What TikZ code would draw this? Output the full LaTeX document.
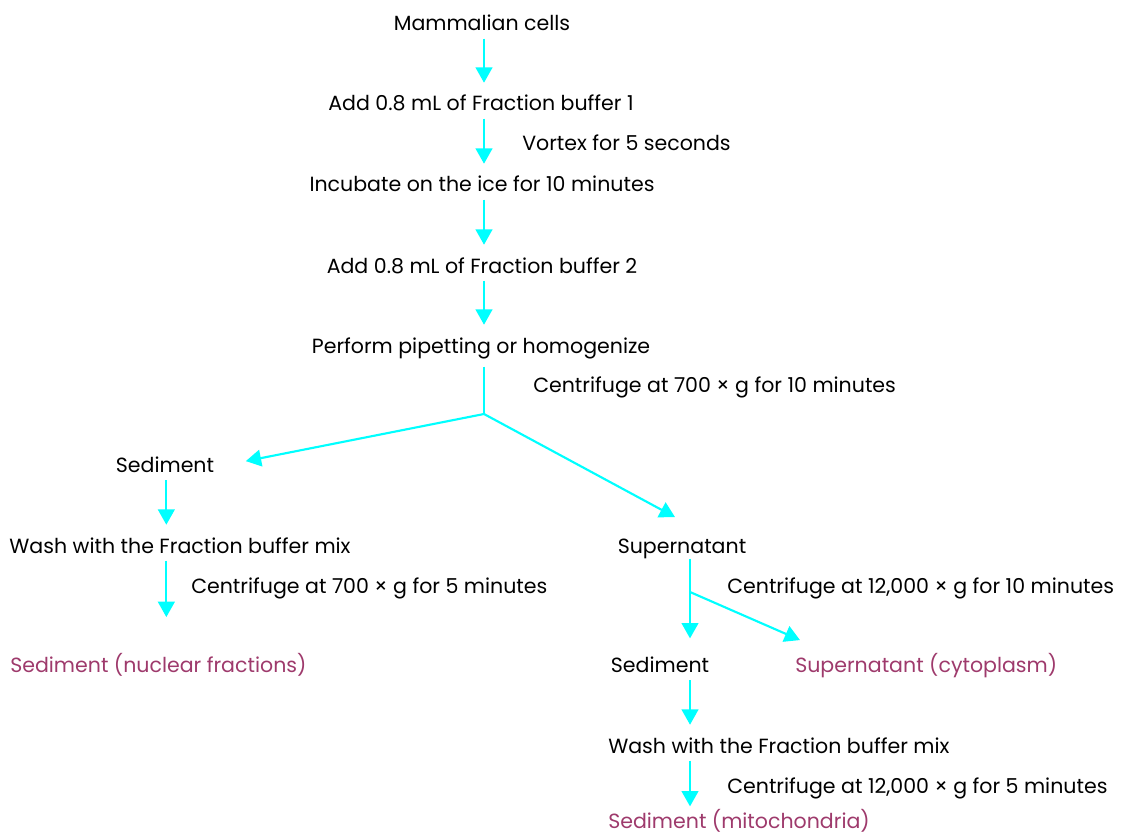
\documentclass[tikz,border=0pt]{standalone}
\usepackage{fontspec}
\setmainfont{Poppins}
\usepackage{tikz}
\usetikzlibrary{arrows.meta,calc}
\definecolor{flowcyan}{RGB}{0,255,255}
\definecolor{fracpurple}{RGB}{158,58,108}
\tikzset{txt/.style={inner sep=0pt, anchor=base, text height=11pt, text depth=4pt, font=\fontsize{15.4}{17}\selectfont}, note/.style={txt, anchor=base west}, result/.style={txt, anchor=base west, text=fracpurple}, flow/.style={draw=flowcyan, line width=1.6pt, -{Triangle[length=11.5pt,width=12.5pt]}}, split/.style={draw=flowcyan, line width=1.6pt}}

\begin{document}
\begin{tikzpicture}[x=0.75pt,y=-0.75pt]
\useasboundingbox (0,0) rectangle (1123,834);
% main column
\node[txt] (cells) at (482,31) {Mammalian cells};
\node[txt] (buffer1) at (481,111) {Add 0.8 mL of Fraction buffer 1};
\node[note] (vortex) at (522,151) {Vortex for 5 seconds};
\node[txt] (incubate) at (482,192) {Incubate on the ice for 10 minutes};
\node[txt] (buffer2) at (482,273) {Add 0.8 mL of Fraction buffer 2};
\node[txt] (pipette) at (481,353) {Perform pipetting or homogenize};
\node[note] (spin1) at (533,392) {Centrifuge at 700 × g for 10 minutes};
\coordinate (fork1) at (484,414);
% nuclear branch
\node[txt] (sed1) at (165,472) {Sediment};
\node[txt] (wash1) at (180,553) {Wash with the Fraction buffer mix};
\node[note] (spin2) at (191,593) {Centrifuge at 700 × g for 5 minutes};
\node[result] (nuclear) at (10,672) {Sediment (nuclear fractions)};
% cytoplasm and mitochondria branch
\node[txt] (super1) at (682,553) {Supernatant};
\node[note] (spin3) at (727,593) {Centrifuge at 12,000 × g for 10 minutes};
\coordinate (fork2) at (690,592);
\node[txt] (sed2) at (660,672) {Sediment};
\node[result] (cyto) at (795,672) {Supernatant (cytoplasm)};
\node[note] (wash2) at (608,753) {Wash with the Fraction buffer mix};
\node[note] (spin4) at (727,793) {Centrifuge at 12,000 × g for 5 minutes};
\node[result] (mito) at (608,828) {Sediment (mitochondria)};

\draw[flow, shorten <=1.5pt, shorten >=10pt] (cells.south -| fork1) -- (buffer1.north -| fork1);
\draw[flow, shorten <=1.5pt, shorten >=10pt] (buffer1.south -| fork1) -- (incubate.north -| fork1);
\draw[flow, shorten <=1.5pt, shorten >=10pt] (incubate.south -| fork1) -- (buffer2.north -| fork1);
\draw[flow, shorten <=1.5pt, shorten >=10pt] (buffer2.south -| fork1) -- (pipette.north -| fork1);
\draw[split, shorten <=6pt] (pipette.south -| fork1) -- (fork1);
\draw[flow, shorten >=24pt] (fork1) -- (sed1.east);
\draw[flow] (fork1) -- ($(super1.north)+(-7,-21)$);
\draw[flow, shorten <=2pt, shorten >=10pt] ([xshift=1pt]sed1.south) -- ([xshift=1pt]sed1.south |- wash1.north);
\draw[flow, shorten <=1.5pt, shorten >=30pt] ([xshift=1pt]sed1.south |- wash1.south) -- ([xshift=1pt]sed1.south |- nuclear.north);
\draw[split] (super1.south -| fork2) -- (fork2);
\draw[flow, shorten >=14pt] (fork2) -- (fork2 |- sed2.north);
\draw[flow] (fork2) -- ($(cyto.north west)+(5,-17)$);
\draw[flow, shorten <=2pt, shorten >=10pt] (sed2.south -| fork2) -- (wash2.north -| fork2);
\draw[flow, shorten <=1.5pt, shorten >=5pt] (wash2.south -| fork2) -- (mito.north -| fork2);
\end{tikzpicture}
\end{document}
